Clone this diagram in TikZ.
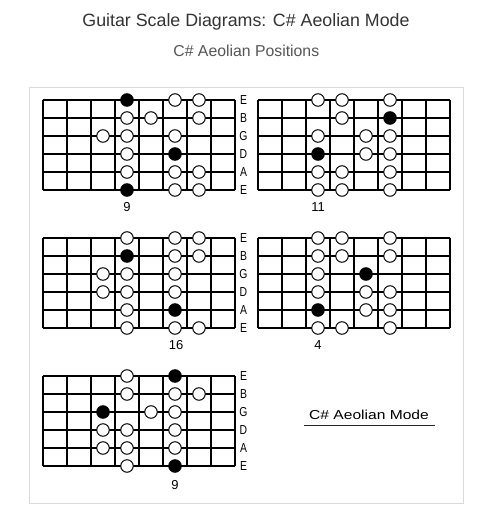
\documentclass[tikz,border=0pt]{standalone}
\usepackage{fontspec}
\setmainfont{Liberation Sans}
\definecolor{titlegray}{RGB}{51,51,51}
\definecolor{subgray}{RGB}{85,85,85}
\definecolor{framegray}{RGB}{218,218,218}
\tikzset{
  gridline/.style={line width=1.8pt, black},
  dot/.style={circle, draw=black, line width=1pt, minimum size=12.5pt, inner sep=0pt},
  strlabel/.style={inner sep=0pt, font=\fontsize{13}{13}\selectfont},
  fretnum/.style={inner sep=0pt, font=\fontsize{13}{13}\selectfont},
}
\newcommand\fboard[3]{% name, x0, y0
  \begin{scope}[shift={(#2,#3)}]
    \foreach \i in {0,...,8} \draw[gridline] (\i*24,0) -- (\i*24,90);
    \foreach \j in {0,...,5} \draw[gridline] (0,\j*18) -- (192,\j*18);
  \end{scope}}
\newcommand\fdots[4]{% name, x0, y0, list c/r/fill
  \foreach \c/\r/\f in {#4}
    \node[dot, fill=\f] (#1-\r-\c) at ({#2+(\c-0.5)*24},{#3+\r*18}) {};}
\newcommand\fstrings[3]{% name, x0, y0
  \foreach \s/\r in {E/0,B/1,G/2,D/3,A/4,E/5}
    \node[strlabel] (#1-s\r) at ({#2+200.5},{#3+\r*18}) {\scalebox{0.8}[1]{\s}};}
\begin{document}
\begin{tikzpicture}[x=1pt,y=-1pt]
  \useasboundingbox (0,0) rectangle (477,505);
  \node[anchor=base, text=titlegray, font=\fontsize{17.8}{17.8}\selectfont] (title) at (246,26.7) {Guitar Scale Diagrams: C\# Aeolian Mode};
  \node[anchor=base, text=subgray, font=\fontsize{15.8}{15.8}\selectfont] (subtitle) at (246.3,56.7) {C\# Aeolian Positions};
  \draw[framegray, line width=1pt] (29.5,87.5) rectangle (463.5,503.5);

  % Diagram 1
  \fboard{a}{43}{100}
  \fdots{a}{43}{100}{4/0/black,6/0/white,7/0/white,
    4/1/white,5/1/white,7/1/white,
    3/2/white,4/2/white,6/2/white,
    4/3/white,6/3/black,
    4/4/white,6/4/white,7/4/white,
    4/5/black,6/5/white,7/5/white}
  \fstrings{a}{43}{100}
  \node[fretnum] (a-num) at (127,207.5) {9};

  % Diagram 2
  \fboard{b}{258}{100}
  \fdots{b}{258}{100}{3/0/white,4/0/white,6/0/white,
    4/1/white,6/1/black,
    3/2/white,5/2/white,6/2/white,
    3/3/black,5/3/white,6/3/white,
    3/4/white,4/4/white,6/4/white,
    3/5/white,4/5/white,6/5/white}
  \node[fretnum] (b-num) at (318,207.5) {11};

  % Diagram 3
  \fboard{c}{43}{238}
  \fdots{c}{43}{238}{4/0/white,6/0/white,7/0/white,
    4/1/black,6/1/white,7/1/white,
    3/2/white,4/2/white,6/2/white,
    3/3/white,4/3/white,6/3/white,
    4/4/white,6/4/black,
    4/5/white,6/5/white,7/5/white}
  \fstrings{c}{43}{238}
  \node[fretnum] (c-num) at (176,345) {16};

  % Diagram 4
  \fboard{d}{258}{238}
  \fdots{d}{258}{238}{3/0/white,4/0/white,6/0/white,
    3/1/white,4/1/white,6/1/white,
    3/2/white,5/2/black,
    3/3/white,5/3/white,6/3/white,
    3/4/black,5/4/white,6/4/white,
    3/5/white,4/5/white,6/5/white}
  \node[fretnum] (d-num) at (318,345.5) {4};

  % Diagram 5
  \fboard{e}{43}{376}
  \fdots{e}{43}{376}{4/0/white,6/0/black,
    4/1/white,6/1/white,7/1/white,
    3/2/black,5/2/white,6/2/white,
    3/3/white,4/3/white,6/3/white,
    3/4/white,4/4/white,6/4/white,
    4/5/white,6/5/black}
  \fstrings{e}{43}{376}
  \node[fretnum] (e-num) at (175,485) {9};

  % Caption
  \node[anchor=base, inner sep=0pt, font=\fontsize{13}{13}\selectfont] (caption) at (369,419.3) {\scalebox{1.2}[1]{C\# Aeolian Mode}};
  \coordinate (ul-l) at (304,425.7);
  \coordinate (ul-r) at (435.3,425.7);
  \draw[line width=1pt, black!85] (ul-l) -- (ul-r);
\end{tikzpicture}
\end{document}
